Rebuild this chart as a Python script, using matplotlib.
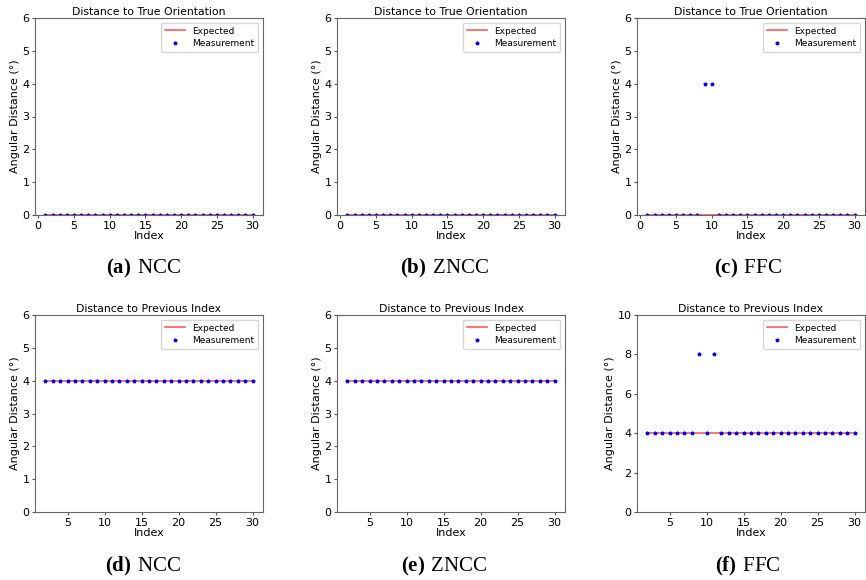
import numpy as np
import matplotlib.pyplot as plt

plt.rcParams["mathtext.fontset"] = "custom"
plt.rcParams["mathtext.bf"] = "Liberation Serif:bold"
plt.rcParams["mathtext.rm"] = "Liberation Serif"

# indices
idx_true = list(range(1, 31))
idx_prev = list(range(2, 31))

# expected values
exp_true = [0] * 30
exp_prev = [4] * 29

# measured values per method
meas_true_ncc = [0] * 30
meas_true_zncc = [0] * 30
meas_true_ffc = [0, 0, 0, 0, 0, 0, 0, 0, 4, 4, 0, 0, 0, 0, 0,
                 0, 0, 0, 0, 0, 0, 0, 0, 0, 0, 0, 0, 0, 0, 0]

meas_prev_ncc = [4] * 29
meas_prev_zncc = [4] * 29
meas_prev_ffc = [4, 4, 4, 4, 4, 4, 4, 8, 4, 8, 4, 4, 4, 4, 4,
                 4, 4, 4, 4, 4, 4, 4, 4, 4, 4, 4, 4, 4, 4]

methods = ["NCC", "ZNCC", "FFC"]
letters_top = ["a", "b", "c"]
letters_bot = ["d", "e", "f"]

fig = plt.figure(figsize=(8.66, 5.8), dpi=100)

W, H = 866, 580
lefts = [35, 337, 637]
caption_cx = [143, 444, 748]
ax_w = 228
ax_h = 197
tops = [18, 315]

def make_ax(left, top):
    return fig.add_axes([left / W, 1 - (top + ax_h) / H, ax_w / W, ax_h / H])

def draw(ax, x, exp, meas, title, ylim):
    ax.plot(x, exp, color="red", alpha=0.65, lw=1.2, label="Expected")
    ax.plot(x, meas, "b*", ms=2.6, label="Measurement")
    ax.set_title(title, fontsize=7.8, pad=2)
    ax.set_xlabel("Index", fontsize=8, labelpad=0)
    ax.set_ylabel("Angular Distance (°)", fontsize=8, labelpad=2)
    ax.set_ylim(ylim)
    ax.tick_params(labelsize=8, length=2.5, pad=1.5, color="#555555")
    for s in ax.spines.values():
        s.set_color("#666666")
    ax.legend(fontsize=6.5, loc="upper right", handlelength=2.2, borderpad=0.45,
              labelspacing=0.4)

top_meas = [meas_true_ncc, meas_true_zncc, meas_true_ffc]
bot_meas = [meas_prev_ncc, meas_prev_zncc, meas_prev_ffc]
bot_ylims = [(0, 6), (0, 6), (0, 10)]

for i in range(3):
    ax = make_ax(lefts[i], tops[0])
    draw(ax, idx_true, exp_true, top_meas[i], "Distance to True Orientation", (0, 6))
    ax.set_xticks([0, 5, 10, 15, 20, 25, 30])
    cx = caption_cx[i] / W
    fig.text(cx, 1 - 268 / H, r"$\mathbf{(" + letters_top[i] + r")}\ \mathrm{" + methods[i] + "}$",
             ha="center", va="center", fontsize=15)

    ax = make_ax(lefts[i], tops[1])
    draw(ax, idx_prev, exp_prev, bot_meas[i], "Distance to Previous Index", bot_ylims[i])
    ax.set_xticks([5, 10, 15, 20, 25, 30])
    fig.text(cx, 1 - 566 / H, r"$\mathbf{(" + letters_bot[i] + r")}\ \mathrm{" + methods[i] + "}$",
             ha="center", va="center", fontsize=15)

fig.savefig("out.png", dpi=100)
